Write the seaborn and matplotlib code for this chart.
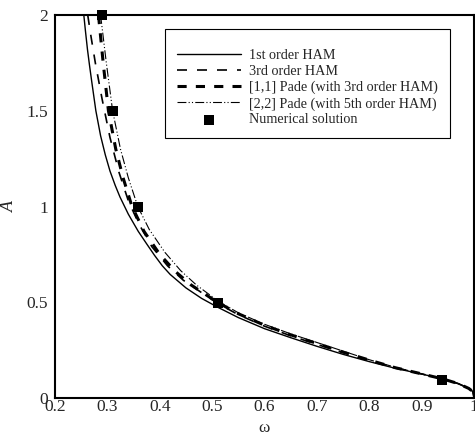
import numpy as np
import pandas as pd
import matplotlib
matplotlib.use("Agg")
import matplotlib.pyplot as plt
import seaborn as sns
from matplotlib.ticker import MultipleLocator, FuncFormatter

# values (omega, A)
ham1_omega = [0.255, 0.258, 0.262, 0.266, 0.270, 0.278, 0.287, 0.296, 0.305, 0.315,
              0.324, 0.340, 0.359, 0.375, 0.390, 0.405, 0.420, 0.450, 0.480, 0.510,
              0.550, 0.600, 0.650, 0.700, 0.750, 0.800, 0.850, 0.900, 0.940, 0.970,
              0.990, 0.998, 1.000]
ham1_amp = [2.00, 1.92, 1.82, 1.735, 1.655, 1.50, 1.37, 1.27, 1.185, 1.11,
            1.05, 0.96, 0.87, 0.805, 0.745, 0.69, 0.645, 0.575, 0.52, 0.475,
            0.42, 0.362, 0.315, 0.27, 0.228, 0.19, 0.155, 0.125, 0.10, 0.075,
            0.05, 0.033, 0.0]

ham3_omega = [0.2625, 0.268, 0.277, 0.290, 0.305, 0.322, 0.340, 0.360, 0.385, 0.415,
              0.445, 0.480, 0.510, 0.550, 0.600, 0.650, 0.700, 0.750, 0.800, 0.850,
              0.900, 0.940, 0.970, 0.990, 0.998, 1.000]
ham3_amp = [2.00, 1.90, 1.75, 1.56, 1.36, 1.18, 1.03, 0.91, 0.79, 0.69,
            0.615, 0.55, 0.495, 0.435, 0.375, 0.325, 0.28, 0.237, 0.196, 0.158,
            0.126, 0.10, 0.075, 0.05, 0.033, 0.0]

pade11_omega = [0.283, 0.292, 0.302, 0.316, 0.330, 0.347, 0.370, 0.400, 0.430, 0.460,
                0.510, 0.550, 0.600, 0.650, 0.700, 0.750, 0.800, 0.850, 0.900, 0.940,
                0.970, 0.990, 0.998, 1.000]
pade11_amp = [2.00, 1.75, 1.50, 1.30, 1.15, 1.00, 0.87, 0.75, 0.66, 0.59,
              0.50, 0.44, 0.38, 0.33, 0.285, 0.24, 0.198, 0.158, 0.126, 0.10,
              0.075, 0.05, 0.033, 0.0]

pade22_omega = [0.287, 0.298, 0.310, 0.325, 0.340, 0.358, 0.380, 0.410, 0.440, 0.470,
                0.512, 0.550, 0.600, 0.650, 0.700, 0.750, 0.800, 0.850, 0.900, 0.938,
                0.970, 0.990, 0.998, 1.000]
pade22_amp = [2.00, 1.75, 1.50, 1.30, 1.15, 1.00, 0.88, 0.76, 0.665, 0.59,
              0.505, 0.445, 0.385, 0.335, 0.29, 0.245, 0.20, 0.16, 0.126, 0.10,
              0.075, 0.05, 0.033, 0.0]

num_omega = [0.289, 0.310, 0.358, 0.512, 0.938]
num_amp = [2.0, 1.5, 1.0, 0.495, 0.092]

labels = ["1st order HAM", "3rd order HAM", "[1,1] Pade (with 3rd order HAM)",
          "[2,2] Pade (with 5th order HAM)", "Numerical solution"]

sns.set_theme(style="white")
plt.rcParams["font.family"] = ["Liberation Serif", "DejaVu Serif"]

fig = plt.figure(figsize=(4.75, 4.33), dpi=100)
ax = fig.add_axes([55 / 475, 1 - 398 / 433, 419 / 475, 383 / 433])

sns.lineplot(x=ham1_omega, y=ham1_amp, ax=ax, color="black", lw=1.0,
             estimator=None, sort=False, label=labels[0])
sns.lineplot(x=ham3_omega, y=ham3_amp, ax=ax, color="black", lw=1.2,
             linestyle=(0, (6, 6)), estimator=None, sort=False, label=labels[1])
sns.lineplot(x=pade11_omega, y=pade11_amp, ax=ax, color="black", lw=2.2,
             linestyle=(0, (3, 3)), estimator=None, sort=False, label=labels[2])
sns.lineplot(x=pade22_omega, y=pade22_amp, ax=ax, color="black", lw=0.8,
             linestyle=(0, (8, 2, 1, 2, 1, 2)), estimator=None, sort=False,
             label=labels[3])
sns.scatterplot(x=num_omega, y=num_amp, ax=ax, color="black", marker="s", s=52,
                edgecolor="black", linewidth=0, zorder=5, clip_on=False,
                label=labels[4])

ax.set_xlim(0.2, 1.0)
ax.set_ylim(0, 2)
ax.xaxis.set_major_locator(MultipleLocator(0.1))
ax.xaxis.set_minor_locator(MultipleLocator(0.02))
ax.yaxis.set_major_locator(MultipleLocator(0.5))
ax.yaxis.set_minor_locator(MultipleLocator(0.1))
ax.yaxis.set_major_formatter(FuncFormatter(lambda v, p: f"{v:g}"))
ax.xaxis.set_major_formatter(FuncFormatter(lambda v, p: f"{v:g}"))

ax.tick_params(which="both", direction="in", top=False, right=False,
               color="black", labelsize=12.5)
ax.tick_params(which="major", length=6.5, width=1.0)
ax.tick_params(which="minor", length=3, width=0.8)
ax.tick_params(axis="x", pad=1)
ax.tick_params(axis="y", pad=5)

for side in ["left", "bottom", "top", "right"]:
    ax.spines[side].set_color("black")
    ax.spines[side].set_linewidth(1.5)

ax.set_xlabel("ω", fontsize=12.5, labelpad=3)
ax.set_ylabel("A", fontsize=13, fontstyle="italic", labelpad=6)

handles, labs = ax.get_legend_handles_labels()
leg = ax.legend(handles, labs, loc="upper left", bbox_to_anchor=(0.263, 0.963),
                fontsize=10.2, frameon=True, fancybox=False, edgecolor="black",
                framealpha=1, handlelength=4.5, handletextpad=0.6,
                labelspacing=0.2, borderpad=0.85, borderaxespad=0,
                title=" ", title_fontsize=5, markerscale=0.9)
leg.get_frame().set_linewidth(0.8)

fig.savefig("out.png", dpi=100)
